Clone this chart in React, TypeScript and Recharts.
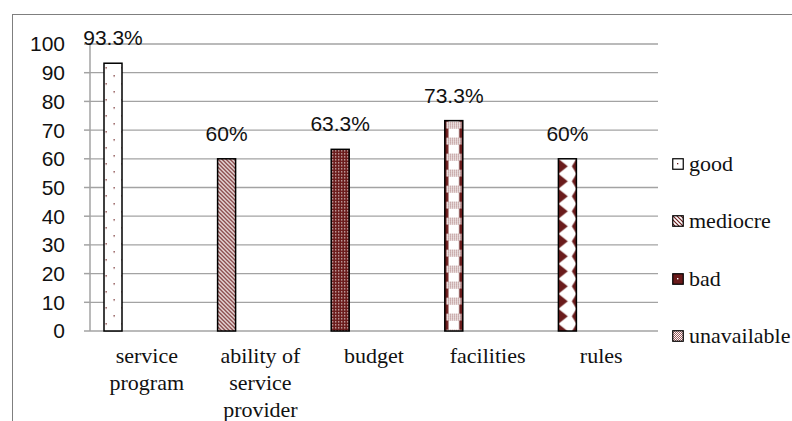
import React from 'react';
import { BarChart, Bar, XAxis, YAxis, CartesianGrid, Legend, LabelList } from 'recharts';

// values (percent)
const categories = ['service program', 'ability of service provider', 'budget', 'facilities', 'rules'];
const goodValues = [93.3, 60, 63.3, 73.3, 60];
const mediocreValues = [null, null, null, null, null];
const badValues = [null, null, null, null, null];
const unavailableValues = [null, null, null, null, null];
const seriesNames = ['good', 'mediocre', 'bad', 'unavailable'];
const yTicks = [0, 10, 20, 30, 40, 50, 60, 70, 80, 90, 100];
const categoryEdges = [0, 1, 2, 3, 4, 5];

const data = categories.map((name, i) => ({
  name,
  pos: i + 0.5,
  good: goodValues[i],
  mediocre: mediocreValues[i],
  bad: badValues[i],
  unavailable: unavailableValues[i],
}));

const MAROON = '#6a1b1b';
const GRID = '#a3a3a3';
const sansFont = { fontFamily: '"Liberation Sans", Arial, sans-serif', fontSize: 21 };
const serifFont = { fontFamily: '"Liberation Serif", "Times New Roman", serif', fontSize: 22 };

// per-bar fill pattern (excel pattern fills)
const barPatterns = ['dots', 'diagonal', 'dense', 'checker', 'diamond'];

const renderPattern = (kind: string, id: string, x: number, y: number, w: number) => {
  switch (kind) {
    case 'dots':
      return (
        <pattern id={id} patternUnits="userSpaceOnUse" x={x} y={y} width={16} height={16}>
          <rect width={16} height={16} fill="#fff" />
          <rect x={1.5} y={4} width={1.3} height={1.3} fill={MAROON} />
          <rect x={9.5} y={12} width={1.3} height={1.3} fill={MAROON} />
        </pattern>
      );
    case 'diagonal':
      return (
        <pattern id={id} patternUnits="userSpaceOnUse" x={x} y={y} width={4} height={4}>
          <rect width={4} height={4} fill="#fff" />
          <path d="M-1,-1 L5,5 M-1,3 L1,5 M3,-1 L5,1" stroke={MAROON} strokeWidth={1.3} />
        </pattern>
      );
    case 'dense':
      return (
        <pattern id={id} patternUnits="userSpaceOnUse" x={x} y={y} width={3} height={3}>
          <rect width={3} height={3} fill={MAROON} />
          <rect x={1} y={1} width={1.1} height={1.1} fill="#fff" />
        </pattern>
      );
    case 'checker':
      return (
        <>
          <pattern id={`${id}-fine`} patternUnits="userSpaceOnUse" x={x} y={y} width={2} height={2}>
            <rect width={2} height={2} fill="#fff" />
            <rect width={1} height={1} fill={MAROON} />
          </pattern>
          <pattern id={id} patternUnits="userSpaceOnUse" x={x} y={y} width={w} height={16}>
            <rect width={w} height={16} fill={MAROON} />
            <rect x={w * 0.2} width={w * 0.6} height={16} fill="#fff" />
            <rect x={w * 0.08} y={1} width={w * 0.84} height={7} fill={`url(#${id}-fine)`} />
          </pattern>
        </>
      );
    default:
      return (
        <pattern id={id} patternUnits="userSpaceOnUse" x={x} y={y} width={w} height={15}>
          <rect width={w} height={15} fill="#fff" />
          <polygon points={`0,0 ${w * 0.52},7.5 0,15`} fill={MAROON} />
          <polygon points={`${w},0 ${w * 0.75},7.5 ${w},15`} fill={MAROON} />
        </pattern>
      );
  }
};

const PatternBar = (props: any) => {
  const { x, y, width, height, index } = props;
  if (!height || height <= 0) return null;
  const id = `bar-pattern-${index}`;
  return (
    <g>
      <defs>{renderPattern(barPatterns[index % barPatterns.length], id, x, y, width)}</defs>
      <rect x={x} y={y} width={width} height={height} fill={`url(#${id})`} stroke="#000" strokeWidth={1.5} />
    </g>
  );
};

// greedy word wrap measured with canvas, like excel's category labels
const measureCtx = typeof document !== 'undefined' ? document.createElement('canvas').getContext('2d') : null;
const wrapLabel = (label: string, maxWidth: number) => {
  if (measureCtx) measureCtx.font = `${serifFont.fontSize}px ${serifFont.fontFamily}`;
  const lines: string[] = [];
  let cur = '';
  label.split(' ').forEach((word) => {
    const test = cur ? `${cur} ${word}` : word;
    const w = measureCtx ? measureCtx.measureText(test).width : test.length * 10;
    if (cur && w > maxWidth) {
      lines.push(cur);
      cur = word;
    } else {
      cur = test;
    }
  });
  if (cur) lines.push(cur);
  return lines;
};

const CategoryTick = (props: any) => {
  const { x, y, payload } = props;
  const lines = wrapLabel(String(payload.value), 105);
  return (
    <text x={x} y={y} textAnchor="middle" fill="#111" style={serifFont}>
      {lines.map((line, i) => (
        <tspan key={i} x={x} dy={i === 0 ? '0.71em' : 27}>
          {line}
        </tspan>
      ))}
    </text>
  );
};

const LegendSwatch = ({ name }: { name: string }) => {
  const id = `legend-${name}`;
  let defs = null;
  let fill = '#fff';
  let extra = null;
  if (name === 'good') {
    extra = <rect x={5} y={5} width={1.3} height={1.3} fill={MAROON} />;
  } else if (name === 'mediocre') {
    defs = (
      <pattern id={id} patternUnits="userSpaceOnUse" width={4} height={4}>
        <rect width={4} height={4} fill="#fff" />
        <path d="M-1,-1 L5,5 M-1,3 L1,5 M3,-1 L5,1" stroke={MAROON} strokeWidth={1.2} />
      </pattern>
    );
    fill = `url(#${id})`;
  } else if (name === 'bad') {
    fill = MAROON;
    extra = <rect x={5} y={5} width={1.4} height={1.4} fill="#fff" />;
  } else {
    defs = (
      <pattern id={id} patternUnits="userSpaceOnUse" width={2} height={2}>
        <rect width={2} height={2} fill="#9a5a5a" />
        <rect width={1} height={1} fill="#fff" />
        <rect x={1} y={1} width={1} height={1} fill="#fff" />
      </pattern>
    );
    fill = `url(#${id})`;
  }
  return (
    <svg width={12} height={12} style={{ display: 'block', marginRight: 5, flexShrink: 0 }}>
      {defs && <defs>{defs}</defs>}
      <rect x={0.75} y={0.75} width={10.5} height={10.5} fill={fill} stroke="#000" strokeWidth={1.2} />
      {extra}
    </svg>
  );
};

const LegendContent = () => (
  <div style={{ paddingLeft: 14 }}>
    {seriesNames.map((name) => (
      <div key={name} style={{ height: 57.5, display: 'flex', alignItems: 'center', whiteSpace: 'nowrap' }}>
        <LegendSwatch name={name} />
        <span style={{ ...serifFont, color: '#111', lineHeight: '22px', flexShrink: 0 }}>{name}</span>
      </div>
    ))}
  </div>
);

export default function App() {
  return (
    <div style={{ position: 'fixed', left: 0, top: 0, width: 792, height: 421, overflow: 'hidden', background: '#fff' }}>
      <div
        style={{
          position: 'absolute',
          left: 12,
          top: 14,
          width: 800,
          height: 420,
          borderTop: '1.5px solid #7f7f7f',
          borderLeft: '1.5px solid #7f7f7f',
        }}
      />
      <BarChart
        width={792}
        height={421}
        data={data}
        margin={{ top: 44, right: 14, bottom: 30, left: 0 }}
        barGap={4.5}
        barSize={18}
        style={{ position: 'absolute', left: 0, top: 0 }}
      >
        <CartesianGrid vertical={false} stroke={GRID} strokeWidth={1.3} />
        <XAxis
          dataKey="name"
          height={60}
          tickLine={false}
          axisLine={false}
          tickSize={0}
          tickMargin={16}
          interval={0}
          tick={<CategoryTick />}
        />
        <XAxis
          xAxisId="edges"
          dataKey="pos"
          type="number"
          domain={[0, 5]}
          ticks={categoryEdges}
          allowDataOverflow
          height={0}
          tickSize={6}
          tick={() => <g />}
          axisLine={{ stroke: GRID, strokeWidth: 1.5 }}
          tickLine={{ stroke: GRID, strokeWidth: 1.5 }}
        />
        <YAxis
          width={90}
          domain={[0, 100]}
          ticks={yTicks}
          interval={0}
          tickSize={6}
          tickMargin={19}
          axisLine={{ stroke: GRID, strokeWidth: 1.5 }}
          tickLine={{ stroke: GRID, strokeWidth: 1.5 }}
          tick={{ ...sansFont, fill: '#111' }}
        />
        <Legend
          layout="vertical"
          align="right"
          verticalAlign="middle"
          width={120}
          content={<LegendContent />}
          wrapperStyle={{ top: 135, overflow: 'visible' }}
        />
        <Bar dataKey="good" name="good" isAnimationActive={false} shape={<PatternBar />}>
          <LabelList
            dataKey="good"
            position="top"
            offset={18}
            formatter={(v: any) => `${v}%`}
            style={{ ...sansFont, fill: '#111' }}
          />
        </Bar>
        <Bar dataKey="mediocre" name="mediocre" isAnimationActive={false} fill="#fff" />
        <Bar dataKey="bad" name="bad" isAnimationActive={false} fill={MAROON} />
        <Bar dataKey="unavailable" name="unavailable" isAnimationActive={false} fill="#9a5a5a" />
      </BarChart>
    </div>
  );
}
